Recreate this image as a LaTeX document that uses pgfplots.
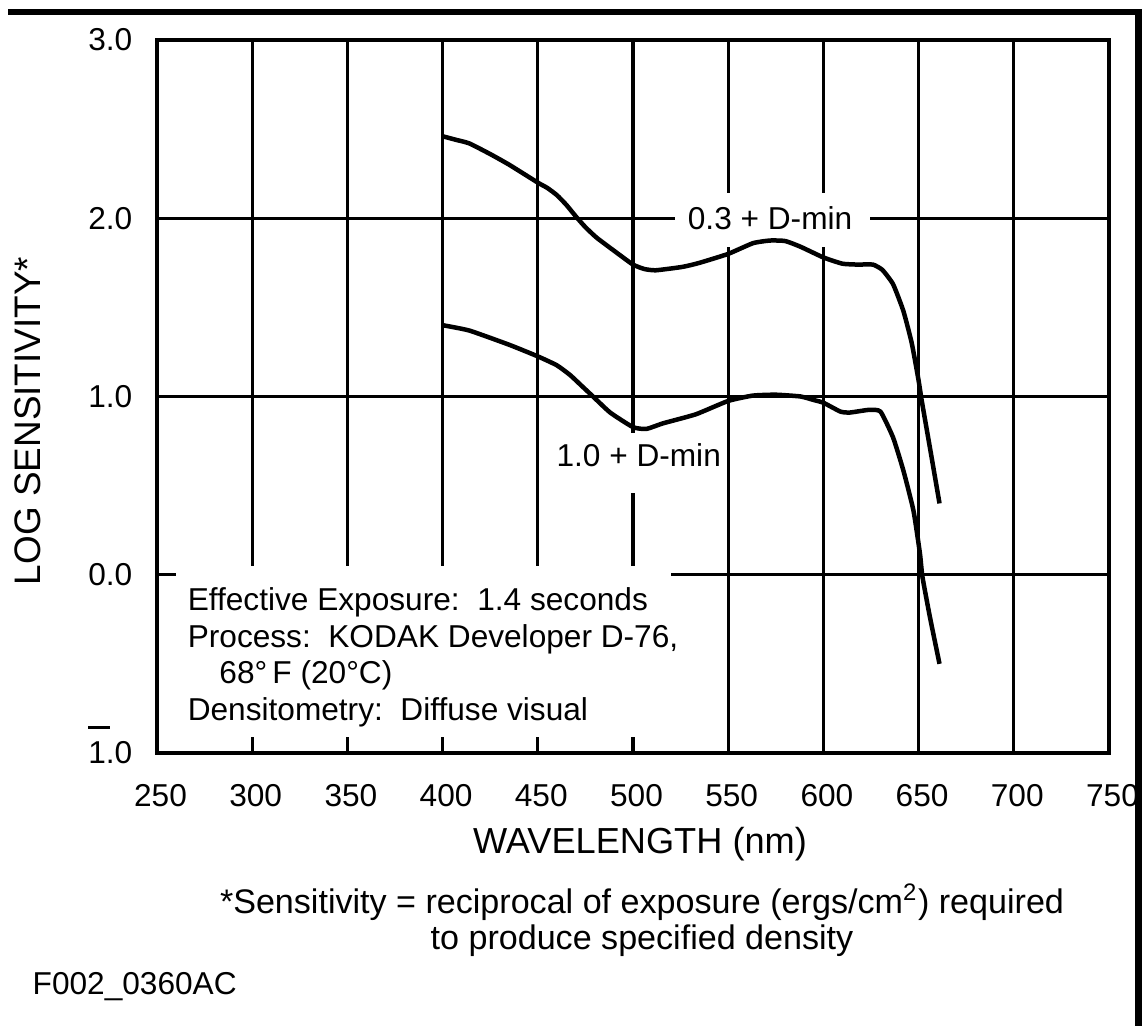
\documentclass[border=0pt]{standalone}
\usepackage{fontspec}
\setmainfont{Liberation Sans}
\usepackage{pgfplots}
\pgfplotsset{compat=1.18}

% log sensitivity curves
\pgfplotstableread{
wl    s
400   2.46
407   2.44
414   2.42
425   2.36
435   2.30
450   2.20
455   2.17
460   2.13
465   2.075
470   2.01
475   1.95
481   1.89
491   1.81
500   1.74
506   1.715
512   1.708
526   1.727
535   1.75
550   1.80
563   1.86
572   1.875
580   1.872
588   1.84
600   1.78
610   1.745
618   1.74
626   1.74
631   1.71
636.6 1.63
642   1.48
646.4 1.30
650   1.09
651.6 0.98
656   0.71
661   0.40
}\dminlow
\pgfplotstableread{
wl    s
400   1.40
414   1.37
435   1.29
450   1.225
460   1.175
467   1.12
473   1.06
479   1.00
488   0.91
500   0.828
507   0.818
516   0.85
533   0.90
550   0.975
563   1.005
575   1.01
588   1.00
595   0.98
600   0.965
609   0.915
614   0.91
624   0.925
630   0.915
636.6 0.77
642   0.585
647.3 0.36
650.7 0.12
652   -0.01
656   -0.24
661   -0.50
}\dminhigh

\begin{document}
\begin{tikzpicture}[font=\fontsize{9}{10.8}\selectfont]
\useasboundingbox (0,0) rectangle (114.2mm,102.6mm);
\begin{axis}[
  at={(15.7mm,27.3mm)}, anchor=south west,
  scale only axis, width=95.2mm, height=71.3mm,
  xmin=250, xmax=750, ymin=-1, ymax=3,
  xtick={250,300,...,750},
  xticklabels={250,300,350,400,450,500,550,600,650,700,750},
  ytick={-1,0,1,2,3},
  yticklabels={{\rlap{\smash{\raisebox{1.1em}{\rule{0.68em}{0.11em}}}}1.0},0.0,1.0,2.0,3.0},
  grid=major,
  major grid style={black, line width=0.33mm},
  axis line style={black, line width=0.33mm},
  major tick length=0pt,
  xticklabel style={anchor=north, inner sep=0pt, yshift=-3.1mm, xshift=0.35mm},
  yticklabel style={anchor=east, inner sep=0pt, xshift=-2.4mm},
  clip=false,
]
% white patches that break the grid behind the labels
\fill[white] (axis cs:522,1.84) rectangle (axis cs:624.5,2.142);
\fill[white] (axis cs:455.5,0.46) rectangle (axis cs:547,0.795);
\fill[white] (axis cs:260,-0.91) rectangle (axis cs:520,0.05);
\node at (axis cs:572,2.0) {0.3 + D-min};
\node at (axis cs:503,0.67) {1.0 + D-min};
\node[anchor=north west, inner sep=0pt, align=left, font=\fontsize{9}{10.5}\selectfont]
  at (axis cs:265.8,-0.066)
  {Effective Exposure:\ \ 1.4 seconds\\
   Process:\ \ KODAK Developer D-76,\\
   \hspace*{1em}68°\,F (20°C)\\
   Densitometry:\ \ Diffuse visual};

\addplot[black, line width=0.45mm, line join=round, smooth, tension=0.3] table[x=wl, y=s] {\dminlow};
\addplot[black, line width=0.45mm, line join=round, smooth, tension=0.3] table[x=wl, y=s] {\dminhigh};
\end{axis}

\begin{scope}[shift={(0,102.6mm)}, x=0.1mm, y=-0.1mm]
\fill[black] (8,9) rectangle (1142,15);
\fill[black] (1135,9) rectangle (1142,1026);
\node[rotate=90, font=\fontsize{10.5}{12}\selectfont] at (28,421) {LOG SENSITIVITY*};
\node[font=\fontsize{10.3}{12}\selectfont] at (640,844) {WAVELENGTH (nm)};
\node[align=center, font=\fontsize{9.7}{10.3}\selectfont] at (642,920)
  {*Sensitivity = reciprocal of exposure (ergs/cm\textsuperscript{2}) required\\
   to produce specified density};
\node[anchor=west, inner sep=0pt] at (32,987) {F002\_0360AC};
\end{scope}
\end{tikzpicture}
\end{document}
